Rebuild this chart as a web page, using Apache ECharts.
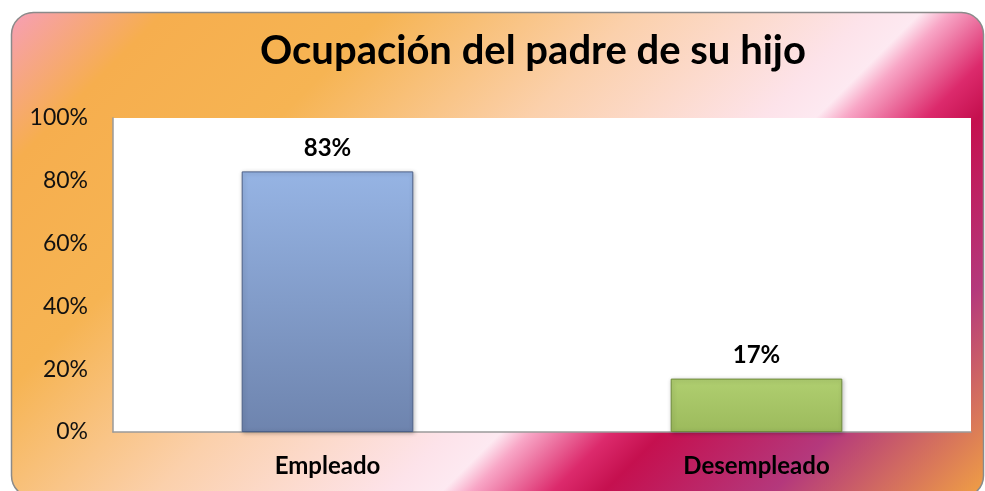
<!DOCTYPE html>
<html>
<head>
<meta charset="utf-8">
<script src="https://cdn.jsdelivr.net/npm/echarts@6/dist/echarts.min.js"></script>
<style>
  html, body { margin: 0; padding: 0; background: #fff; }
  #chart { width: 985px; height: 491px; }
</style>
</head>
<body>
<div id="chart"></div>
<script>
const categories = ["Empleado", "Desempleado"];
const values = [83, 17];
const yTicks = [0, 20, 40, 60, 80, 100];

const fontFamily = "Lato, 'Open Sans', sans-serif";

// colores de las barras (arriba -> abajo, borde)
const barColors = [
  ["#96b4e4", "#6e84ae", "#4d6189"],
  ["#b0cf70", "#9cba5c", "#6f8c3c"]
];

const chart = echarts.init(document.getElementById("chart"));

const option = {
  animation: false,
  graphic: [{
    type: "rect",
    z: -10,
    shape: {x: 11.5, y: 12.5, width: 972, height: 485, r: 22},
    style: {
      stroke: "#8a8a8a",
      lineWidth: 1.5,
      fill: {
        type: "linear", global: true,
        x: 0, y: 0, x2: 735, y2: 735,
        colorStops: [
          {offset: 0, color: "#f79cc6"},
          {offset: 0.12, color: "#f6ae4e"},
          {offset: 0.27, color: "#f6b453"},
          {offset: 0.44, color: "#fbd0ab"},
          {offset: 0.6, color: "#fde3ea"},
          {offset: 0.635, color: "#fde9f1"},
          {offset: 0.655, color: "#f8a6c6"},
          {offset: 0.71, color: "#dc2a6c"},
          {offset: 0.745, color: "#c5104f"},
          {offset: 0.86, color: "#b4387c"},
          {offset: 1, color: "#ee9c46"}
        ]
      }
    }
  }],
  title: {
    text: "Ocupación del padre de su hijo",
    left: 260,
    top: 31,
    padding: 0,
    textStyle: {fontFamily, fontSize: 40, fontWeight: "bold", color: "#000"}
  },
  grid: {
    left: 113, right: 14, top: 118, bottom: 59,
    show: true, backgroundColor: "#ffffff", borderWidth: 0
  },
  xAxis: {
    type: "category",
    data: categories,
    axisLine: {lineStyle: {color: "#9a9a9a", width: 1.5}},
    axisTick: {show: false},
    axisLabel: {margin: 22, fontFamily, fontSize: 24, fontWeight: "bold", color: "#000"}
  },
  yAxis: {
    type: "value",
    min: yTicks[0],
    max: yTicks[yTicks.length - 1],
    interval: yTicks[1] - yTicks[0],
    axisLine: {show: true, lineStyle: {color: "#9a9a9a", width: 1.5}},
    axisTick: {show: false},
    splitLine: {show: false},
    axisLabel: {margin: 25, fontFamily, fontSize: 23, color: "#111", formatter: "{value}%"}
  },
  series: [{
    type: "bar",
    barWidth: "40%",
    data: values.map((v, i) => ({
      value: v,
      itemStyle: {
        color: {
          type: "linear", x: 0, y: 0, x2: 0, y2: 1,
          colorStops: [
            {offset: 0, color: barColors[i][0]},
            {offset: 1, color: barColors[i][1]}
          ]
        },
        borderColor: barColors[i][2],
        borderWidth: 1,
        shadowColor: "rgba(0,0,0,0.25)",
        shadowBlur: 4,
        shadowOffsetX: 1,
        shadowOffsetY: 1
      }
    })),
    label: {
      show: true,
      position: "top",
      distance: 11,
      formatter: "{c}%",
      fontFamily, fontSize: 24, fontWeight: "bold", color: "#000"
    }
  }]
};

chart.setOption(option);
</script>
</body>
</html>
